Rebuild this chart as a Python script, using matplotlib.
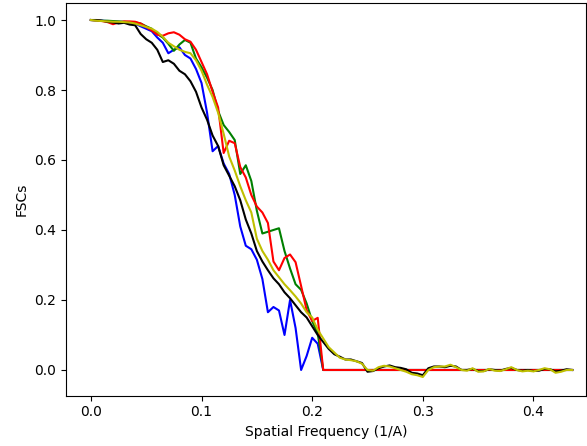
import numpy as np
import matplotlib
matplotlib.use("Agg")
import matplotlib.pyplot as plt

freq = np.round(np.arange(0, 0.4351, 0.005), 3)

tail_k = [-0.005, -0.003, 0.005, 0.010, 0.013, 0.008, 0.006, 0.002, -0.008, -0.010,
          -0.015, 0.005, 0.010, 0.010, 0.008, 0.012, 0.010, 0.000, 0.000, 0.003,
          -0.003, -0.003, 0.002, 0.000, -0.002, 0.003, 0.006, 0.000, -0.002, 0.000,
          -0.003, -0.002, 0.003, 0.002, -0.004, -0.002, 0.002, 0.000]
tail_y = [0.000, -0.002, 0.008, 0.012, 0.010, 0.005, 0.000, -0.005, -0.012, -0.015,
          -0.020, 0.000, 0.008, 0.010, 0.010, 0.015, 0.008, 0.000, -0.002, 0.005,
          -0.005, -0.004, 0.003, -0.002, -0.003, 0.002, 0.008, 0.000, -0.004, -0.002,
          -0.004, 0.000, 0.005, 0.002, -0.008, -0.005, 0.000, 0.000]

fsc_black = [1.000, 1.000, 0.998, 0.995, 0.993, 0.990, 0.992, 0.987, 0.985, 0.960,
             0.945, 0.935, 0.915, 0.880, 0.885, 0.875, 0.855, 0.845, 0.825, 0.795,
             0.750, 0.715, 0.670, 0.640, 0.585, 0.555, 0.525, 0.485, 0.430, 0.390,
             0.340, 0.310, 0.285, 0.262, 0.245, 0.222, 0.205, 0.185, 0.165, 0.150,
             0.125, 0.100, 0.080, 0.060, 0.045, 0.038, 0.030, 0.030, 0.025, 0.020] + tail_k

fsc_yellow = [1.000, 0.998, 0.997, 0.996, 0.995, 0.995, 0.994, 0.993, 0.990, 0.985,
              0.980, 0.975, 0.966, 0.952, 0.935, 0.925, 0.915, 0.909, 0.905, 0.885,
              0.855, 0.815, 0.780, 0.735, 0.675, 0.610, 0.570, 0.525, 0.485, 0.450,
              0.375, 0.340, 0.315, 0.285, 0.265, 0.245, 0.228, 0.210, 0.190, 0.165,
              0.150, 0.115, 0.090, 0.065, 0.050, 0.035, 0.030, 0.028, 0.025, 0.018] + tail_y

zeros_tail = [0.0] * 45

fsc_blue = [1.000, 0.999, 0.998, 0.997, 0.996, 0.995, 0.994, 0.993, 0.990, 0.982,
            0.975, 0.968, 0.950, 0.935, 0.905, 0.915, 0.922, 0.900, 0.890, 0.860,
            0.820, 0.735, 0.625, 0.640, 0.590, 0.560, 0.500, 0.410, 0.355, 0.345,
            0.315, 0.260, 0.165, 0.180, 0.170, 0.100, 0.200, 0.120, 0.000, 0.040,
            0.092, 0.075, 0.000] + zeros_tail

fsc_green = [1.000, 0.999, 0.998, 0.998, 0.997, 0.996, 0.995, 0.994, 0.993, 0.990,
             0.982, 0.975, 0.960, 0.950, 0.932, 0.912, 0.930, 0.943, 0.935, 0.890,
             0.865, 0.835, 0.800, 0.740, 0.700, 0.680, 0.657, 0.560, 0.585, 0.540,
             0.455, 0.390, 0.395, 0.400, 0.405, 0.340, 0.290, 0.245, 0.229, 0.190,
             0.140, 0.105, 0.000] + zeros_tail

fsc_red = [1.000, 0.999, 0.997, 0.994, 0.988, 0.993, 0.996, 0.996, 0.995, 0.990,
           0.980, 0.970, 0.958, 0.955, 0.962, 0.965, 0.958, 0.945, 0.938, 0.915,
           0.880, 0.845, 0.795, 0.750, 0.620, 0.655, 0.648, 0.580, 0.550, 0.500,
           0.467, 0.450, 0.420, 0.310, 0.285, 0.320, 0.330, 0.308, 0.240, 0.171,
           0.140, 0.149, 0.000] + zeros_tail

fig = plt.figure(figsize=(5.87, 4.46), dpi=100)
ax = fig.add_axes([66 / 587, (446 - 395.5) / 446, (586 - 66) / 587, (395.5 - 3) / 446])

ax.plot(freq, fsc_blue, color='b', lw=1.5)
ax.plot(freq, fsc_green, color='g', lw=1.5)
ax.plot(freq, fsc_red, color='r', lw=1.5)
ax.plot(freq, fsc_black, color='k', lw=1.5)
ax.plot(freq, fsc_yellow, color='y', lw=1.5)

ax.set_xlim(-0.0225, 0.4475)
ax.set_ylim(-0.0729, 1.0486)
ax.set_xticks([0.0, 0.1, 0.2, 0.3, 0.4])
ax.set_yticks([0.0, 0.2, 0.4, 0.6, 0.8, 1.0])
ax.set_xlabel("Spatial Frequency (1/A)")
ax.set_ylabel("FSCs")

fig.savefig("out.png", dpi=100)
